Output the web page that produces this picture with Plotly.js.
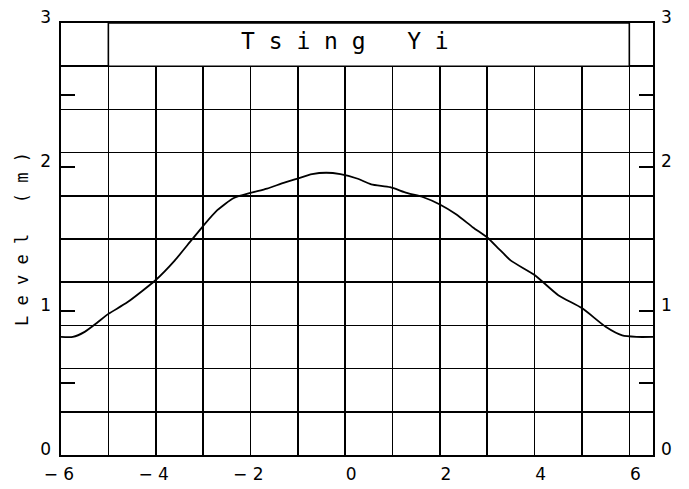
<!DOCTYPE html>
<html>
<head>
<meta charset="utf-8">
<script src="https://cdn.plot.ly/plotly-3.0.1.min.js"></script>
<style>html,body{margin:0;padding:0;background:#fff;}</style>
</head>
<body>
<div id="chart" style="width:689px;height:489px;"></div>
<script>
// Data
const chainage = [-6, -5.75, -5.5, -5.25, -5, -4.6, -4, -3.6, -3.25, -3, -2.7, -2.35, -2, -1.65, -1.3, -1, -0.7, -0.4, -0.1, 0.25, 0.55, 0.95, 1.3, 1.65, 2, 2.35, 2.7, 3, 3.25, 3.5, 4, 4.5, 5, 5.5, 5.85, 6.15, 6.5];
const level = [0.82, 0.82, 0.855, 0.915, 0.98, 1.06, 1.215, 1.35, 1.49, 1.59, 1.70, 1.785, 1.82, 1.85, 1.89, 1.92, 1.95, 1.96, 1.95, 1.92, 1.88, 1.86, 1.82, 1.79, 1.74, 1.67, 1.58, 1.51, 1.43, 1.35, 1.25, 1.11, 1.02, 0.89, 0.83, 0.82, 0.82];

const xTickVals = [-6, -5, -4, -3, -2, -1, 0, 1, 2, 3, 4, 5, 6];
const xTickText = ["\u2212\u00a06\u00a0\u00a0\u00a0", "", "\u2212\u00a04\u00a0\u00a0\u00a0", "", "\u2212\u00a02\u00a0\u00a0\u00a0", "", "0", "", "2", "", "4", "", "6"];
const yTickVals = [0, 0.5, 1, 1.5, 2, 2.5, 3];
const yTickText = ["0", "", "1", "", "2", "", "3"];

const chartTitle = "T\u00a0s\u00a0i\u00a0n\u00a0g\u00a0\u00a0\u00a0Y\u00a0i";
const yTitle = "L\u00a0e\u00a0v\u00a0e\u00a0l\u00a0\u00a0\u00a0(\u00a0m\u00a0)";

const labelFont = {family: "DejaVu Sans", size: 17, color: "#000"};

const traces = [
  {x: chainage, y: level, type: "scatter", mode: "lines",
   line: {color: "#000", width: 1.8, shape: "spline", smoothing: 0.6},
   hoverinfo: "skip", showlegend: false},
  {x: [], y: [], type: "scatter", mode: "lines", yaxis: "y2", showlegend: false, hoverinfo: "skip"},
  {x: [], y: [], type: "scatter", mode: "lines", yaxis: "y3", showlegend: false, hoverinfo: "skip"}
];

const tickAxisCommon = {
  range: [0, 3], overlaying: "y", tickmode: "array", tickvals: yTickVals, ticktext: yTickText,
  ticks: "inside", ticklen: 14, tickwidth: 1.6, tickcolor: "#000",
  showgrid: false, zeroline: false, showline: false, tickfont: labelFont,
  ticklabelshift: -6, fixedrange: true
};

const layout = {
  width: 689, height: 489,
  margin: {l: 61, r: 36, t: 23, b: 34, pad: 0},
  paper_bgcolor: "#fff", plot_bgcolor: "#fff",
  showlegend: false,
  xaxis: {
    range: [-6, 6.5], tickmode: "array", tickvals: xTickVals, ticktext: xTickText,
    showgrid: true, gridcolor: "#000", gridwidth: 1.6, zeroline: false,
    showline: true, mirror: true, linecolor: "#000", linewidth: 2,
    ticks: "", tickfont: labelFont, ticklabelshift: 6, ticklabelstandoff: 3, fixedrange: true
  },
  yaxis: {
    range: [0, 3], tickmode: "linear", tick0: 0, dtick: 0.3,
    showgrid: true, gridcolor: "#000", gridwidth: 1.6, zeroline: false,
    showline: true, mirror: true, linecolor: "#000", linewidth: 2,
    ticks: "", showticklabels: false, fixedrange: true,
    title: {text: yTitle, font: {family: "DejaVu Sans Mono", size: 17, color: "#000"}, standoff: 26}
  },
  yaxis2: Object.assign({}, tickAxisCommon, {side: "left", ticklabelstandoff: 9}),
  yaxis3: Object.assign({}, tickAxisCommon, {side: "right", ticklabelstandoff: 7}),
  shapes: [
    {type: "rect", xref: "x", yref: "y", x0: -5, x1: 6, y0: 2.7, y1: 3,
     fillcolor: "#fff", line: {color: "#000", width: 1.6}, layer: "above"}
  ],
  annotations: [
    {text: chartTitle, x: 0, y: 2.875, xref: "x", yref: "y", showarrow: false,
     xanchor: "center", yanchor: "middle",
     font: {family: "DejaVu Sans Mono", size: 23, color: "#000"}}
  ]
};

Plotly.newPlot("chart", traces, layout, {displayModeBar: false, staticPlot: true});
</script>
</body>
</html>
